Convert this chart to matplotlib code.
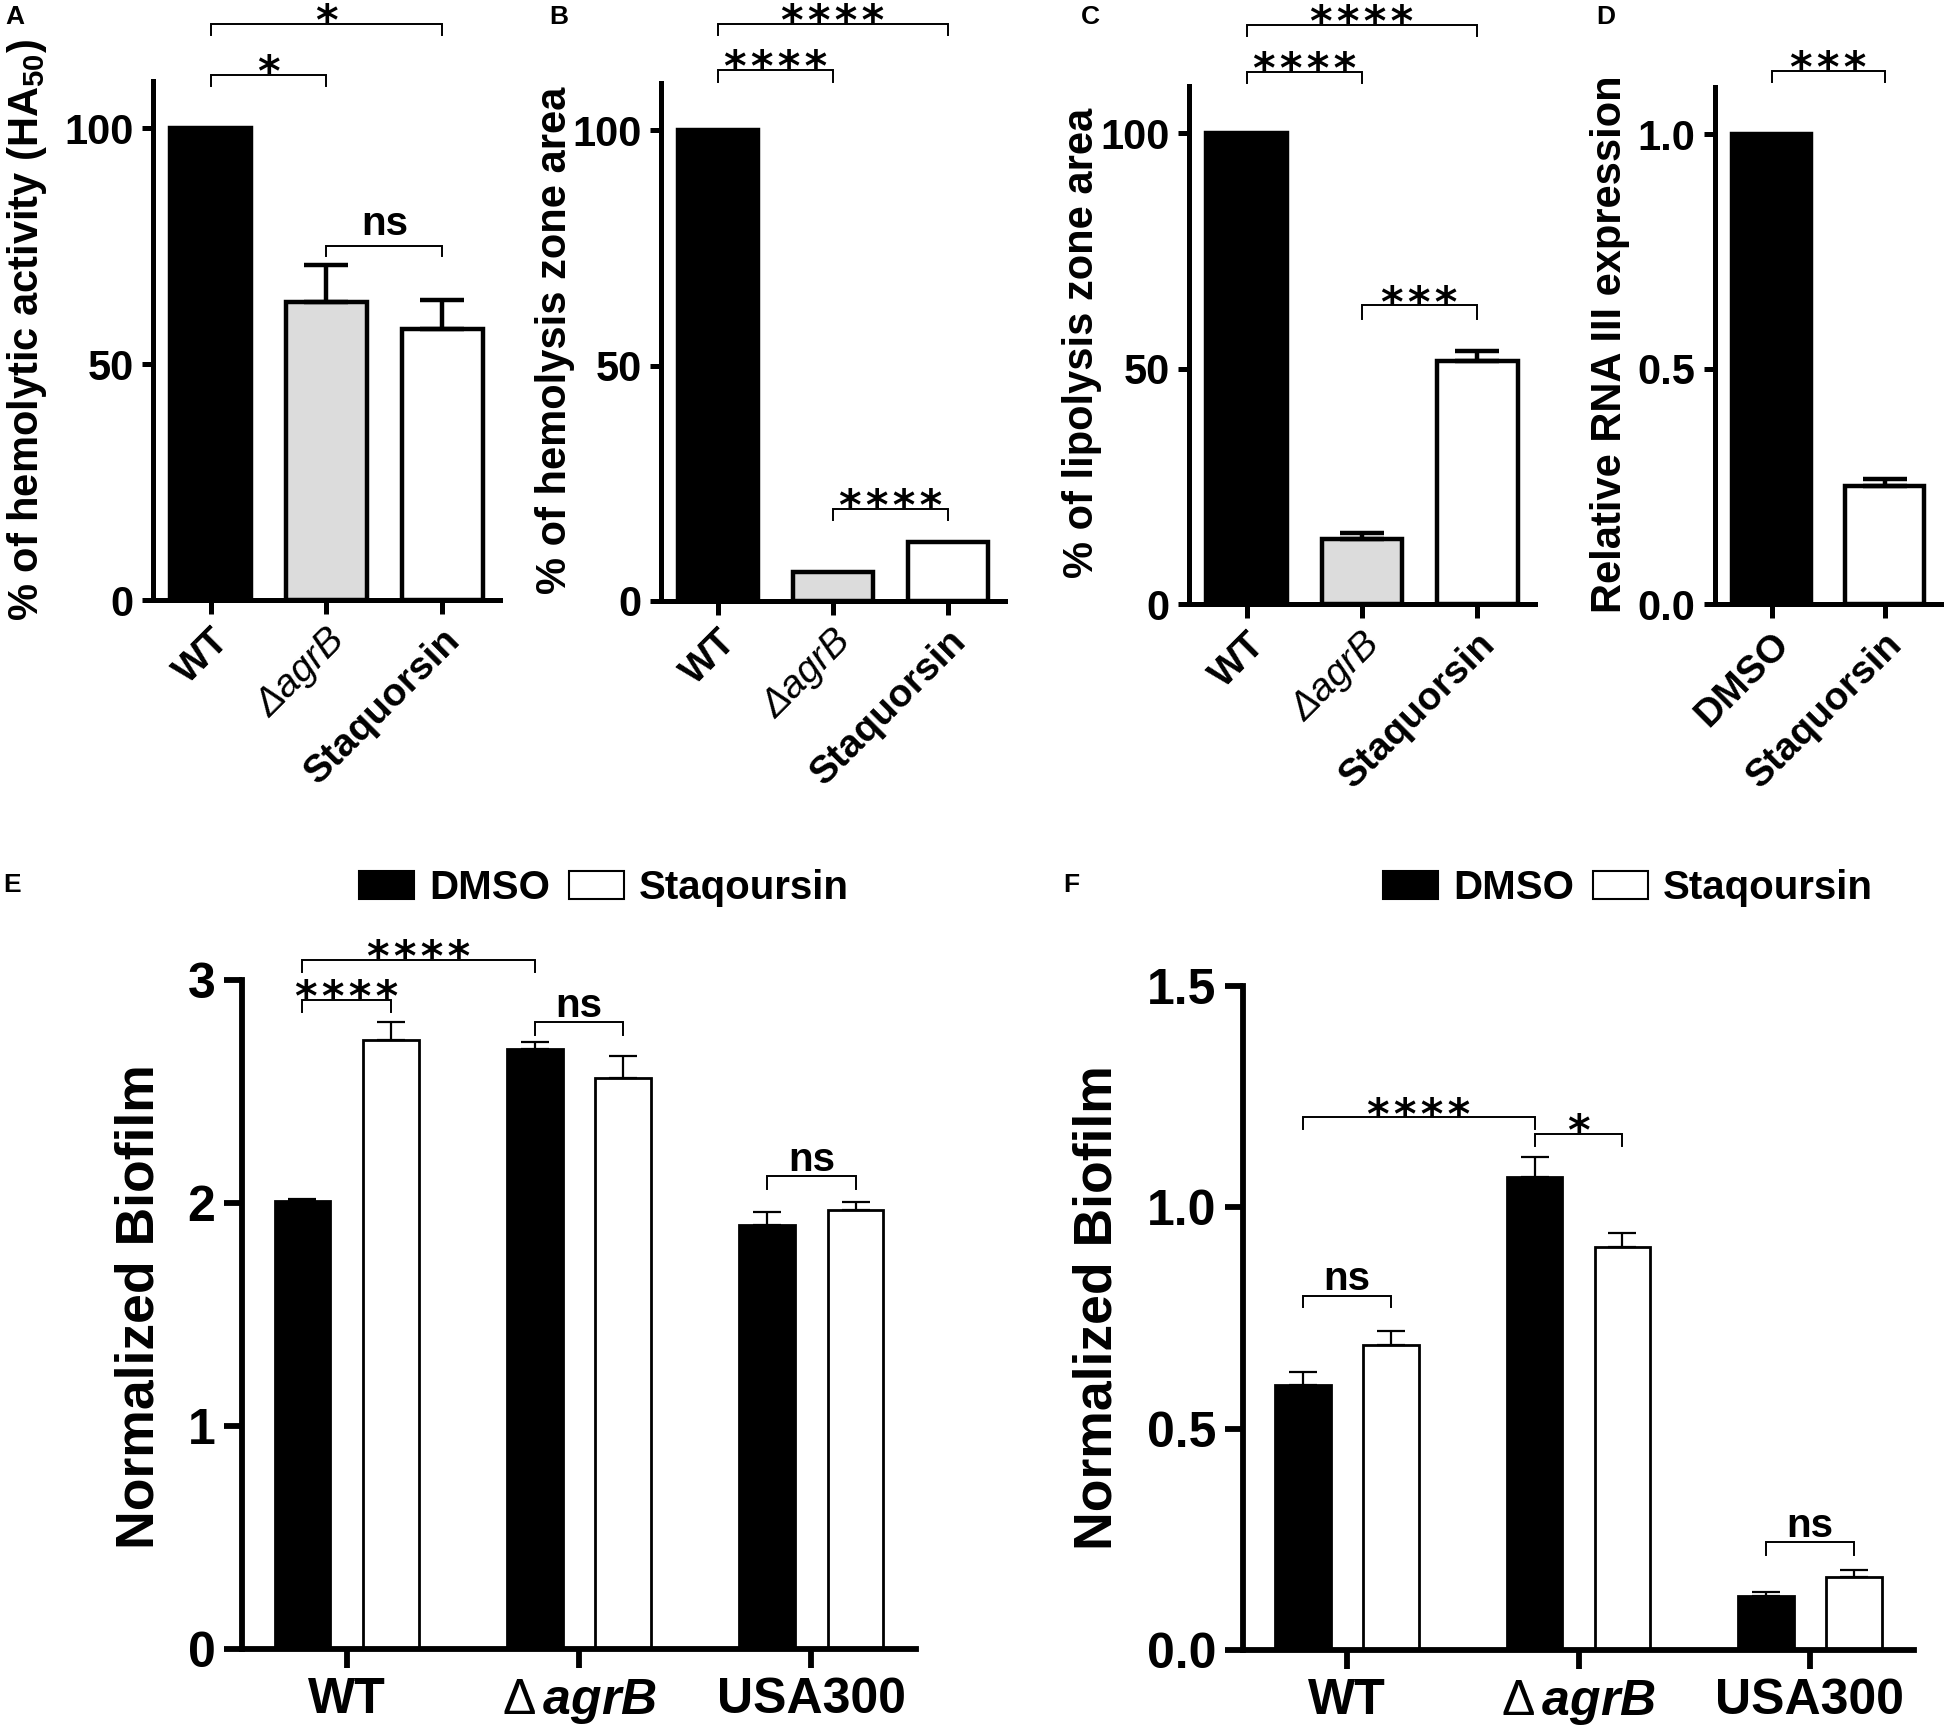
import matplotlib
matplotlib.use("Agg")
import matplotlib.pyplot as plt
from matplotlib.patches import Patch
import numpy as np

plt.rcParams["font.family"] = ["Liberation Sans", "DejaVu Sans"]
plt.rcParams["font.weight"] = "bold"
plt.rcParams["mathtext.fontset"] = "custom"
plt.rcParams["mathtext.rm"] = "Liberation Sans:bold"
plt.rcParams["mathtext.it"] = "Liberation Sans:italic:bold"
plt.rcParams["mathtext.sf"] = "Liberation Sans:normal"
plt.rcParams["mathtext.default"] = "regular"

W, H = 1950, 1736
NARROW = ["Liberation Sans Narrow", "Liberation Sans", "DejaVu Sans"]
STAR = ["DejaVu Sans"]

# ---- data -------------------------------------------------------------
groups_abc = ["WT", "ΔagrB", "Staquorsin"]
bar_colors_abc = ["black", "#DCDCDC", "white"]
hemolytic_mean = [100, 63.1, 57.5]
hemolytic_err = [0, 8.0, 6.1]
hemolysis_zone_mean = [100, 6.1, 12.5]
hemolysis_zone_err = [0, 0, 0]
lipolysis_zone_mean = [100, 13.9, 51.7]
lipolysis_zone_err = [0, 1.2, 2.1]

groups_d = ["DMSO", "Staquorsin"]
bar_colors_d = ["black", "white"]
rna3_mean = [1.0, 0.252]
rna3_err = [0, 0.014]

strains = ["WT", r"$\mathsf{\Delta}\,\mathit{agrB}$", "USA300"]
treatments = ["DMSO", "Staqoursin"]
biofilm_e_dmso = [2.01, 2.69, 1.90]
biofilm_e_dmso_err = [0.01, 0.03, 0.06]
biofilm_e_staq = [2.73, 2.56, 1.97]
biofilm_e_staq_err = [0.08, 0.10, 0.035]
biofilm_f_dmso = [0.598, 1.069, 0.121]
biofilm_f_dmso_err = [0.031, 0.045, 0.011]
biofilm_f_staq = [0.688, 0.910, 0.165]
biofilm_f_staq_err = [0.033, 0.033, 0.015]

# significance brackets: (x1, x2, y, drop, label)
sig_a = [(0, 1, 111.2, 2.2, "*"), (0, 2, 122.0, 2.2, "*"), (1, 2, 75.1, 2.2, "ns")]
sig_b = [(0, 1, 112.7, 2.4, "****"), (0, 2, 122.5, 2.4, "****"),
         (1, 2, 19.5, 2.4, "****")]
sig_c = [(0, 1, 113.0, 2.4, "****"), (0, 2, 123.0, 2.4, "****"),
         (1, 2, 63.4, 2.8, "***")]
sig_d = [(0, 1, 1.134, 0.024, "***")]
sig_e = [(-0.19, 0.19, 2.91, 0.055, "****"), (-0.19, 0.81, 3.09, 0.055, "****"),
         (0.81, 1.19, 2.81, 0.055, "ns"), (1.81, 2.19, 2.12, 0.055, "ns")]
sig_f = [(-0.19, 0.81, 1.203, 0.026, "****"), (0.81, 1.19, 1.165, 0.026, "*"),
         (-0.19, 0.19, 0.80, 0.026, "ns"), (1.81, 2.19, 0.243, 0.028, "ns")]


def px_axes(fig, left, top, right, bottom):
    return fig.add_axes([left / W, 1 - bottom / H, (right - left) / W, (bottom - top) / H])


def style_axes(ax, spine_lw, ylen, xlen):
    for s in ("top", "right"):
        ax.spines[s].set_visible(False)
    for s in ("left", "bottom"):
        ax.spines[s].set_linewidth(spine_lw)
    ax.tick_params(axis="y", length=ylen, width=spine_lw, pad=6)
    ax.tick_params(axis="x", length=xlen, width=spine_lw, pad=6)


def brackets(ax, items, lw, ns_off, star_fs, ns_fs):
    for x1, x2, y, drop, lab in items:
        ax.plot([x1, x1, x2, x2], [y - drop, y, y, y - drop], color="black",
                lw=lw, clip_on=False, solid_joinstyle="miter")
        if lab == "ns":
            ax.annotate(lab, xy=((x1 + x2) / 2, y), xytext=(0, ns_off),
                        textcoords="offset points", ha="center", va="baseline",
                        fontsize=ns_fs, fontweight="bold", annotation_clip=False)
        else:
            ax.annotate("\u200a".join(lab), xy=((x1 + x2) / 2, y), xytext=(0, -8),
                        textcoords="offset points", ha="center", va="baseline",
                        fontsize=star_fs, fontweight="bold", family=STAR,
                        annotation_clip=False)


def top_panel(fig, box, labels, means, errs, colors, ylim, yticks, yticklabels, sig):
    ax = px_axes(fig, *box)
    x = np.arange(len(labels))
    ax.bar(x, means, width=0.7, color=colors, edgecolor="black", linewidth=3.2, zorder=2)
    for xi, m, e in zip(x, means, errs):
        if e > 0:
            ax.errorbar(xi, m, yerr=[[0], [e]], color="black", elinewidth=3.2,
                        capsize=16, capthick=3.2, zorder=3)
    ax.set_xlim(-0.5, len(labels) - 0.5)
    ax.set_ylim(*ylim)
    ax.set_yticks(yticks)
    ax.set_yticklabels(yticklabels, fontsize=30, family=NARROW, fontweight="bold")
    ax.set_xticks(x)
    ax.set_xticklabels(labels, fontsize=28, fontweight="bold", rotation=45,
                       ha="right", va="top", rotation_mode="anchor")
    for t in ax.get_xticklabels():
        if t.get_text().startswith("Δ"):
            t.set_fontstyle("italic")
            t.set_fontweight("normal")
    style_axes(ax, 3.6, 8, 10)
    brackets(ax, sig, 1.4, 8, 31, 29)
    return ax


def bottom_panel(fig, box, dmso, dmso_err, staq, staq_err, ylim, yticks, yticklabels, sig):
    ax = px_axes(fig, *box)
    x = np.arange(len(strains))
    off, bw = 0.19, 0.24
    ax.bar(x - off, dmso, width=bw, color="black", edgecolor="black", linewidth=2, zorder=2)
    ax.bar(x + off, staq, width=bw, color="white", edgecolor="black", linewidth=2, zorder=2)
    ax.errorbar(x - off, dmso, yerr=[np.zeros(len(x)), dmso_err], fmt="none",
                ecolor="black", elinewidth=1.6, capsize=10, capthick=1.6, zorder=3)
    ax.errorbar(x + off, staq, yerr=[np.zeros(len(x)), staq_err], fmt="none",
                ecolor="black", elinewidth=1.6, capsize=10, capthick=1.6, zorder=3)
    ax.set_xlim(-0.45, 2.45)
    ax.set_ylim(*ylim)
    ax.set_yticks(yticks)
    ax.set_yticklabels(yticklabels, fontsize=36, family=NARROW, fontweight="bold")
    ax.set_xticks(x)
    ax.set_xticklabels(strains, fontsize=36, fontweight="bold")
    style_axes(ax, 4.2, 13, 14)
    brackets(ax, sig, 1.4, 4, 31, 29)
    return ax


fig = plt.figure(figsize=(W / 100, H / 100), dpi=100)

top_panel(fig, (153, 81, 500, 600), groups_abc, hemolytic_mean, hemolytic_err,
          bar_colors_abc, (0, 110), [0, 50, 100], ["0", "50", "100"], sig_a)
top_panel(fig, (661, 83, 1005, 601), groups_abc, hemolysis_zone_mean, hemolysis_zone_err,
          bar_colors_abc, (0, 110), [0, 50, 100], ["0", "50", "100"], sig_b)
top_panel(fig, (1189, 86, 1535, 604), groups_abc, lipolysis_zone_mean, lipolysis_zone_err,
          bar_colors_abc, (0, 110), [0, 50, 100], ["0", "50", "100"], sig_c)
top_panel(fig, (1715, 87, 1941, 604), groups_d, rna3_mean, rna3_err,
          bar_colors_d, (0, 1.1), [0, 0.5, 1.0], ["0.0", "0.5", "1.0"], sig_d)

bottom_panel(fig, (242, 980, 916, 1649), biofilm_e_dmso, biofilm_e_dmso_err,
             biofilm_e_staq, biofilm_e_staq_err, (0, 3), [0, 1, 2, 3],
             ["0", "1", "2", "3"], sig_e)
bottom_panel(fig, (1243, 986, 1914, 1650), biofilm_f_dmso, biofilm_f_dmso_err,
             biofilm_f_staq, biofilm_f_staq_err, (0, 1.5), [0, 0.5, 1.0, 1.5],
             ["0.0", "0.5", "1.0", "1.5"], sig_f)

# y labels
ylabels = [
    ("% of hemolytic activity (HA$_{50}$)", 27, 330, 30),
    ("% of hemolysis zone area", 555, 340, 30),
    ("% of lipolysis zone area", 1082, 343, 30),
    ("Relative RNA III expression", 1610, 344, 30),
    ("Normalized Biofilm", 139, 1307, 38.5),
    ("Normalized Biofilm", 1098, 1308, 38.5),
]
for txt, xx, yy, fs in ylabels:
    fig.text(xx / W, 1 - yy / H, txt, rotation=90, ha="center", va="center",
             fontsize=fs, fontweight="bold")

# panel letters
for lab, xx, yy in [("A", 15, 17), ("B", 559, 17), ("C", 1090, 17), ("D", 1606, 17),
                    ("E", 12, 885), ("F", 1071, 885)]:
    fig.text(xx / W, 1 - yy / H, lab, ha="center", va="center", fontsize=19,
             fontweight="bold")

# legends for E and F
handles = [Patch(facecolor="black", edgecolor="black", lw=1.5),
           Patch(facecolor="white", edgecolor="black", lw=1.5)]
for cx in (604, 1628):
    fig.legend(handles, treatments, loc="center", bbox_to_anchor=(cx / W, 1 - 888 / H),
               ncol=2, frameon=False, fontsize=29, handlelength=1.36, handleheight=0.7,
               handletextpad=0.37, columnspacing=0.47, borderpad=0, borderaxespad=0)

fig.savefig("out.png", dpi=100, facecolor="white")
